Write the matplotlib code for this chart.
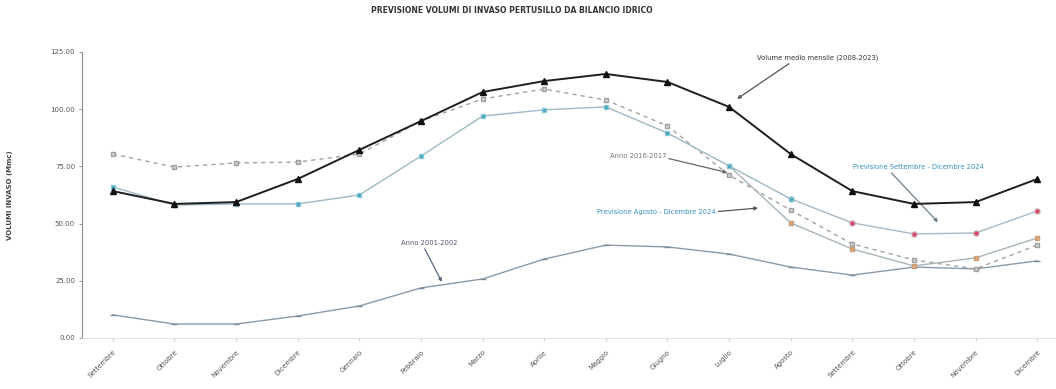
import matplotlib.pyplot as plt
import numpy as np

# Mesi (settembre -> dicembre dell'anno successivo)
mesi = ["Settembre", "Ottobre", "Novembre", "Dicembre", "Gennaio", "Febbraio",
        "Marzo", "Aprile", "Maggio", "Giugno", "Luglio", "Agosto",
        "Settembre", "Ottobre", "Novembre", "Dicembre"]

# Volumi (Mmc)
medio_2008_2023 = [64.2, 58.6, 59.4, 69.5, 82.2, 94.8, 107.5, 112.3, 115.4,
                   111.9, 101.0, 80.4, 64.2, 58.6, 59.4, 69.5]
anno_2016_2017 = [80.4, 74.7, 76.5, 76.9, 80.4, 94.8, 104.5, 108.8, 104.0,
                  92.7, 71.2, 55.9, 41.1, 34.1, 30.2, 40.6]
anno_2001_2002 = [10.1, 6.1, 6.1, 9.6, 14.0, 21.9, 25.8, 34.5, 40.6, 39.8,
                  36.7, 31.0, 27.5, 31.0, 30.2, 33.7]
osservato_2024 = [66.0, 58.1, 58.6, 58.6, 62.5, 79.5, 97.0, 99.7, 101.0,
                  89.6, 75.2, 60.8]
prev_agosto = [75.2, 50.3, 38.9, 31.5, 35.0, 43.7]      # da Luglio a Dicembre
prev_settembre = [60.8, 50.3, 45.5, 45.9, 55.5]         # da Agosto a Dicembre

x = np.arange(len(mesi))

fig = plt.figure(figsize=(10.56, 3.89), dpi=100, facecolor="white")
ax = fig.add_axes([82 / 1056, 51 / 389, 986 / 1056, 286 / 389])

# Serie
ax.plot(x, anno_2001_2002, color="#8a9aaa", lw=1.0, marker="_", ms=4,
        mec="#7a8a9a", zorder=2)
ax.plot(x, anno_2016_2017, color="#a0a0a0", lw=1.0, ls=(0, (3, 3)),
        marker="s", ms=3, mfc="#d0d0d0", mec="#a0a0a0", zorder=2)
ax.plot(x[10:], prev_agosto, color="#a8b4bc", lw=1.0, marker="s", ms=3.5,
        mfc="#f2a365", mec="#c0a080", zorder=3)
ax.plot(x[11:], prev_settembre, color="#a8b8c4", lw=1.0, marker="o", ms=3.5,
        mfc="#d8405e", mec="#c89aa8", zorder=3)
ax.plot(x[:12], osservato_2024, color="#9fb8c4", lw=1.0, marker="s", ms=3.5,
        mfc="#3a9fb5", mec="#8cc8d8", zorder=4)
ax.plot(x, medio_2008_2023, color="#1e1e1e", lw=1.4, marker="^", ms=4,
        mfc="#111111", mec="#111111", zorder=5)

# Assi
ax.set_xlim(-0.5, len(mesi) - 0.5)
ax.set_ylim(0, 125)
ax.set_yticks([0, 25, 50, 75, 100, 125])
ax.set_yticklabels([f"{v:.2f}" for v in [0, 25, 50, 75, 100, 125]],
                   fontsize=5, color="#555555")
ax.set_xticks(x)
ax.set_xticklabels(mesi, rotation=45, ha="right", rotation_mode="anchor",
                   fontsize=5, color="#555555")
ax.tick_params(axis="x", length=2, color="#cccccc", pad=6)
ax.tick_params(axis="y", length=2, color="#999999", pad=3)
for s in ["top", "right"]:
    ax.spines[s].set_visible(False)
ax.spines["left"].set_color("#8a8a8a")
ax.spines["bottom"].set_color("#e0e0e0")
ax.set_ylabel("VOLUMI INVASO (Mmc)", fontsize=5, fontweight="bold",
              color="#444444", labelpad=27)

fig.text(0.485, 0.972, "PREVISIONE VOLUMI DI INVASO PERTUSILLO DA BILANCIO IDRICO",
         ha="center", va="center", fontsize=5.5, fontweight="bold", color="#333333")

# Annotazioni
def freccia(colore, rel):
    return dict(arrowstyle="-|>", color=colore, lw=0.9, mutation_scale=5,
                shrinkA=0, shrinkB=0, relpos=rel)

ax.annotate("Volume medio mensile (2008-2023)", xy=(10.13, 104.5),
            xytext=(11.43, 122.5), fontsize=4.9, color="#333333",
            ha="center", va="center", arrowprops=freccia("#555555", (0.3, 0.0)))
ax.annotate("Anno 2016-2017", xy=(9.97, 72.3), xytext=(8.52, 79.5),
            fontsize=4.9, color="#777777", ha="center", va="center",
            arrowprops=freccia("#666666", (1.0, 0.2)))
ax.annotate("Previsione Agosto - Dicembre 2024", xy=(10.47, 56.8),
            xytext=(8.82, 55.2), fontsize=4.9, color="#3a8fc0",
            ha="center", va="center", arrowprops=freccia("#555555", (1.0, 0.5)))
ax.annotate("Previsione Settembre - Dicembre 2024", xy=(13.39, 50.6),
            xytext=(13.08, 74.7), fontsize=4.9, color="#3a8fc0",
            ha="center", va="center", arrowprops=freccia("#6a8090", (0.27, 0.0)))
ax.annotate("Anno 2001-2002", xy=(5.34, 24.5), xytext=(5.13, 41.5),
            fontsize=4.9, color="#555577", ha="center", va="center",
            arrowprops=freccia("#5a6a80", (0.4, 0.0)))

fig.savefig("out.png", dpi=100, facecolor="white")
